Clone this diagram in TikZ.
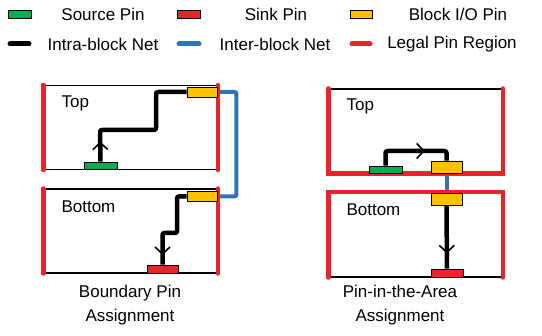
\documentclass[tikz,border=0pt]{standalone}
\usepackage{fontspec}
\setmainfont{Liberation Sans}
\usepackage{tikz}
\usetikzlibrary{arrows.meta,positioning,backgrounds,decorations.markings}
\definecolor{PinGreen}{HTML}{00B050}
\definecolor{PinRed}{HTML}{E8252B}
\definecolor{PinYellow}{HTML}{FFC000}
\definecolor{NetBlue}{HTML}{2E75B6}
\definecolor{LegalRed}{HTML}{ED2128}

\begin{document}
\begin{tikzpicture}[x=1pt, y=-1pt,
  every node/.style={font=\fontsize{17}{24}\selectfont},
  pin/.style={draw, line width=0.9pt, inner sep=0pt, minimum width=31pt,
              minimum height=8pt},
  srcpin/.style={pin, fill=PinGreen},
  sinkpin/.style={pin, fill=PinRed},
  iopin/.style={pin, fill=PinYellow, minimum width=30pt, minimum height=11pt},
  blockbox/.style={draw, line width=1.2pt, minimum width=173pt,
                   minimum height=84pt, inner sep=0pt},
  intra/.style={line width=4.5pt, rounded corners=2pt, line join=round},
  inter/.style={line width=4pt, NetBlue, rounded corners=2pt},
  legal/.style={line width=4.2pt, LegalRed, line cap=round},
  midarr/.style={postaction=decorate, decoration={markings,
      mark=at position #1 with {\arrow[black]{Straight Barb[length=7pt,
        width=15pt, line width=1.6pt 0]}}}}
]
\useasboundingbox (0,0) rectangle (542,336);

% legend
\node[srcpin, minimum width=23pt] (lgsrc) at (19.5,14) {};
\node (lgsrctxt) at (103,14) {Source Pin};
\node[sinkpin, minimum width=23pt] (lgsink) at (189,14) {};
\node (lgsinktxt) at (276,14) {Sink Pin};
\node[iopin, minimum width=22pt, minimum height=8pt] (lgio) at (361,14) {};
\node (lgiotxt) at (458,14) {Block I/O Pin};
\draw[line width=5pt, line cap=round] (10,44) -- (29,44);
\node (lgintra) at (103,44) {Intra-block Net};
\draw[line width=5pt, line cap=round, NetBlue] (179,44) -- (199,44);
\node (lginter) at (275,44) {Inter-block Net};
\draw[legal, line width=5pt] (352,44) -- (370,44);
\node (lglegal) at (452,44) {Legal Pin Region};

% boundary pin assignment
\node[blockbox] (topA) at (130.5,127.5) {};
\node[blockbox] (botA) at (130.5,231) {};
\draw[legal] (topA.north west) -- (topA.south west);
\draw[legal] (topA.north east) -- (topA.south east);
\draw[legal] (botA.north west) -- (botA.south west);
\draw[legal] (botA.north east) -- (botA.south east);
\node[anchor=west] (topAtxt) at (58,103) {Top};
\node[anchor=west] (botAtxt) at (58,207) {Bottom};

\node[srcpin, minimum width=33pt, minimum height=7pt] (srcA) at (100.5,165.5) {};
\node[iopin, minimum height=10pt] (ioA1) at (202,92) {};
\node[iopin, minimum height=10pt] (ioA2) at (202,196.5) {};
\node[sinkpin] (sinkA) at (162.5,269) {};

\begin{scope}[on background layer]
\draw[intra, midarr=20pt] (srcA.north) -- (100,130) -| (156,92) -- (ioA1.west);
\draw[intra, midarr=80pt] (ioA2.west) -| (177,233) -| (sinkA.north);
\draw[inter] (ioA1.east) -- ++(19,0) |- (ioA2.east);
\end{scope}

% pin-in-the-area assignment
\node[blockbox] (topB) at (415.5,131) {};
\node[blockbox] (botB) at (415.5,235) {};
\draw[legal] (topB.north west) -- (topB.south west) -- (topB.south east)
  -- (topB.north east);
\draw[legal] (botB.south west) -- (botB.north west) -- (botB.north east)
  -- (botB.south east);
\node[anchor=west] (topBtxt) at (343,106) {Top};
\node[anchor=west] (botBtxt) at (343,210) {Bottom};

\node[srcpin, minimum width=33pt, minimum height=7pt] (srcB) at (385.5,169.5) {};
\node[iopin, minimum width=31pt, minimum height=12pt] (ioB1) at (446.5,167) {};
\node[iopin, minimum width=31pt, minimum height=12pt] (ioB2) at (446.5,199) {};
\node[sinkpin, minimum width=32pt] (sinkB) at (447,273) {};

\begin{scope}[on background layer]
\draw[intra, midarr=53pt] (srcB.north) |- (446.5,151) -- (ioB1.north);
\draw[intra, midarr=48pt] (ioB2.south) -- (sinkB.north);
\draw[inter] (ioB1.south) -- (ioB2.north);
\end{scope}

% captions
\node[align=center] (capA) at (130,305) {Boundary Pin\\Assignment};
\node[align=center] (capB) at (400,305) {Pin-in-the-Area\\Assignment};

\end{tikzpicture}
\end{document}
